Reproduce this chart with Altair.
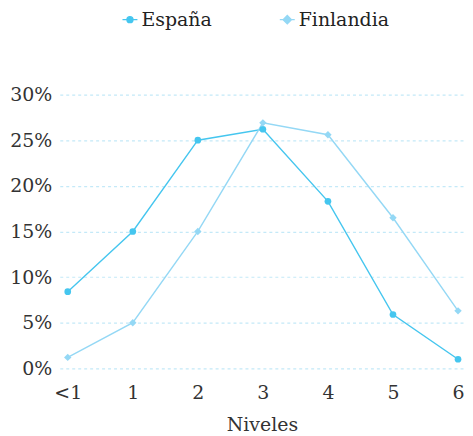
import altair as alt
import pandas as pd

niveles = ["<1", "1", "2", "3", "4", "5", "6"]
espana = [8.4, 15.0, 25.0, 26.2, 18.3, 5.9, 1.0]
finlandia = [1.2, 5.0, 15.0, 26.9, 25.6, 16.5, 6.3]
paises = ["España", "Finlandia"]
colores = ["#45c6ef", "#94d8f5"]

rows = []
for i, n in enumerate(niveles):
    rows.append({"idx": i, "nivel": n, "pais": paises[0], "valor": espana[i] / 100})
    rows.append({"idx": i, "nivel": n, "pais": paises[1], "valor": finlandia[i] / 100})
df = pd.DataFrame(rows)

font = "DejaVu Serif"
label_arr = "[" + ",".join("'" + n + "'" for n in niveles) + "]"

x = alt.X("idx:Q", title="Niveles",
          scale=alt.Scale(domain=[-0.1224, 6.0918], nice=False, zero=False),
          axis=alt.Axis(values=list(range(len(niveles))), labelExpr=label_arr + "[datum.value]",
                        grid=False, ticks=False, domain=False, labelPadding=15,
                        labelFont=font, labelFontSize=19, labelColor="#333",
                        titleFont=font, titleFontSize=19, titleFontWeight="normal",
                        titleColor="#333", titlePadding=13))
y = alt.Y("valor:Q", title=None,
          scale=alt.Scale(domain=[0, 0.30], nice=False),
          axis=alt.Axis(values=[0, 0.05, 0.10, 0.15, 0.20, 0.25, 0.30], format=".0%",
                        grid=True, gridColor="#c4e9f8", gridDash=[3, 3], gridWidth=1.2,
                        ticks=False, domain=False, labelPadding=8,
                        labelFont=font, labelFontSize=19, labelColor="#333"))

cscale = alt.Scale(domain=paises, range=colores)
base = alt.Chart(df)

circ = "M-1,0L1,0M0.4,0A0.4,0.4,0,1,1,-0.4,0A0.4,0.4,0,1,1,0.4,0Z"
diam = "M-1,0L1,0M0,-0.55L0.55,0L0,0.55L-0.55,0Z"
leg = alt.Legend(title=None, orient="none", direction="horizontal", legendX=61, legendY=-85,
                 labelFont=font, labelFontSize=19, labelColor="#222", labelOffset=2,
                 symbolSize=225, symbolStrokeWidth=1.4, symbolOpacity=1, columnPadding=65)
legend_layer = base.mark_point(filled=False, size=1, strokeWidth=1.4, opacity=1).encode(
    x=x, y=y,
    color=alt.Color("pais:N", scale=cscale, legend=leg),
    fill=alt.Fill("pais:N", scale=cscale, legend=leg),
    shape=alt.Shape("pais:N", scale=alt.Scale(domain=paises, range=[circ, diam]), legend=leg))

lines = base.mark_line(strokeWidth=1.4).encode(
    x=x, y=y, color=alt.Color("pais:N", scale=cscale), detail="pais:N")

pts_es = base.transform_filter(alt.datum.pais == paises[0]).mark_point(
    filled=True, size=45, opacity=1, shape="circle").encode(
    x=x, y=y, color=alt.Color("pais:N", scale=cscale))
pts_fi = base.transform_filter(alt.datum.pais == paises[1]).mark_point(
    filled=True, size=55, opacity=1, shape="diamond").encode(
    x=x, y=y, color=alt.Color("pais:N", scale=cscale))

chart = alt.layer(legend_layer, lines, pts_es, pts_fi).properties(
    width=406, height=275, padding={"left": 1, "top": 1, "right": 0, "bottom": 5}
).configure_view(stroke=None)

chart.save("out.html", embed_options={"renderer": "svg", "actions": False})
